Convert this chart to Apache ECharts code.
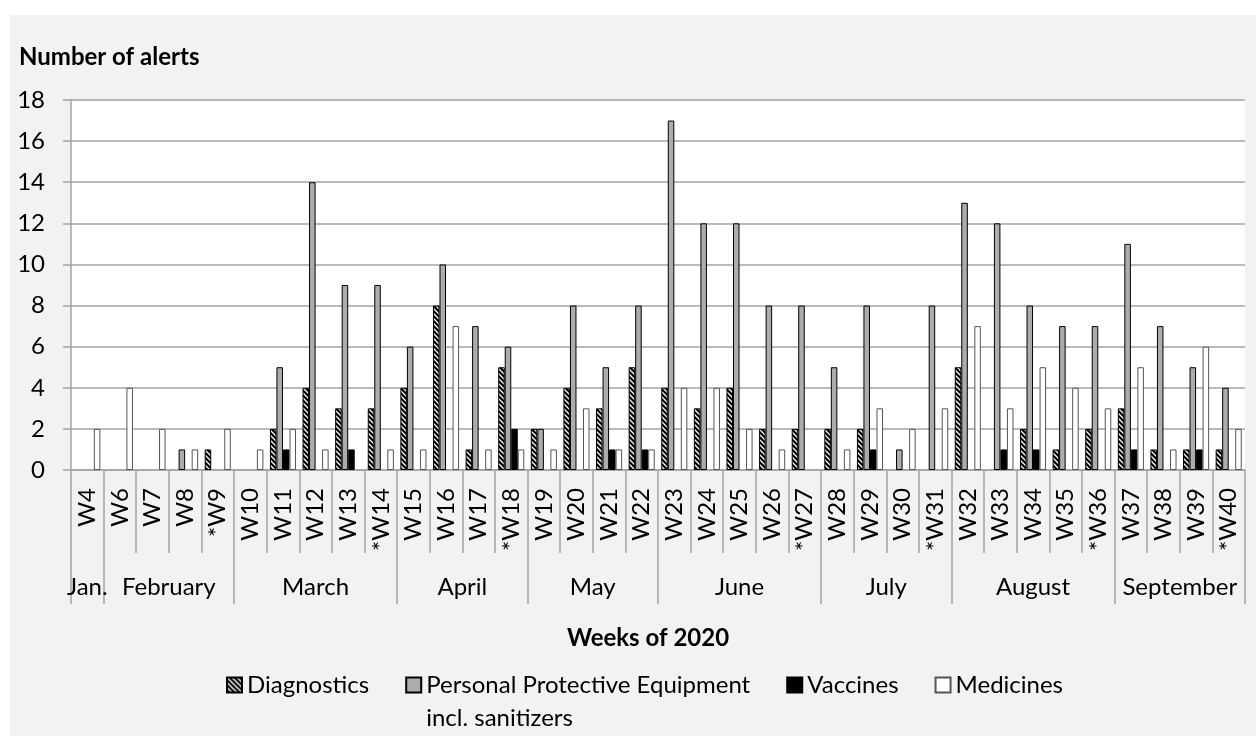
<!DOCTYPE html>
<html>
<head>
<meta charset="utf-8">
<script src="https://cdn.jsdelivr.net/npm/echarts@6/dist/echarts.min.js"></script>
<style>
  html, body { margin: 0; padding: 0; background: #fff; }
  #bg { position: absolute; left: 10px; top: 15px; right: 0; bottom: 0; background: #f2f2f2; }
  #chart { position: absolute; left: 0; top: 0; width: 1256px; height: 736px; }
</style>
</head>
<body>
<div id="bg"></div>
<div id="chart"></div>
<script>
// weeks of 2020 (W5 has no entry), * marks weeks split over two months
const weeks = ['W4', 'W6', 'W7', 'W8', '*W9', 'W10', 'W11', 'W12', 'W13', '*W14',
  'W15', 'W16', 'W17', '*W18', 'W19', 'W20', 'W21', 'W22', 'W23', 'W24',
  'W25', 'W26', '*W27', 'W28', 'W29', 'W30', '*W31', 'W32', 'W33', 'W34',
  'W35', '*W36', 'W37', 'W38', 'W39', '*W40'];
const months = ['Jan.', 'February', 'March', 'April', 'May', 'June', 'July', 'August', 'September'];
const monthWeeks = [1, 4, 5, 4, 4, 5, 4, 5, 4];

const diagnostics = [0, 0, 0, 0, 1, 0, 2, 4, 3, 3, 4, 8, 1, 5, 2, 4, 3, 5, 4, 3, 4, 2, 2, 2, 2, 0, 0, 5, 0, 2, 1, 2, 3, 1, 1, 1];
const ppe = [0, 0, 0, 1, 0, 0, 5, 14, 9, 9, 6, 10, 7, 6, 2, 8, 5, 8, 17, 12, 12, 8, 8, 5, 8, 1, 8, 13, 12, 8, 7, 7, 11, 7, 5, 4];
const vaccines = [0, 0, 0, 0, 0, 0, 1, 0, 1, 0, 0, 0, 0, 2, 0, 0, 1, 1, 0, 0, 0, 0, 0, 0, 1, 0, 0, 0, 1, 1, 0, 0, 1, 0, 1, 0];
const medicines = [2, 4, 2, 1, 2, 1, 2, 1, 0, 1, 1, 7, 1, 1, 1, 3, 1, 1, 4, 4, 2, 1, 0, 1, 3, 2, 3, 7, 3, 5, 4, 3, 5, 1, 6, 2];

// month boundaries and centres on the week scale
const bounds = [0];
monthWeeks.forEach(n => bounds.push(bounds[bounds.length - 1] + n));
const centres = monthWeeks.map((n, i) => bounds[i] + n / 2);

// hatch fill for diagnostics
function hatch() {
  const c = document.createElement('canvas');
  c.width = 5; c.height = 5;
  const ctx = c.getContext('2d');
  ctx.fillStyle = '#000';
  ctx.fillRect(0, 0, 5, 5);
  ctx.strokeStyle = '#fff';
  ctx.lineWidth = 1.3;
  ctx.beginPath();
  ctx.moveTo(-1, -1); ctx.lineTo(6, 6);
  ctx.moveTo(-1, 4); ctx.lineTo(1, 6);
  ctx.moveTo(4, -1); ctx.lineTo(6, 1);
  ctx.stroke();
  return c;
}

const noZero = arr => arr.map(v => (v === 0 ? '-' : v));
const font = 'Lato, "Noto Sans", sans-serif';
const grey = '#a3a3a3';

const chart = echarts.init(document.getElementById('chart'), null, { renderer: 'canvas' });

chart.setOption({
  backgroundColor: 'transparent',
  textStyle: { fontFamily: font, color: '#000' },
  title: [
    {
      text: 'Number of alerts', left: 19, top: 45, padding: 0,
      textStyle: { fontFamily: font, fontSize: 24, fontWeight: 'bold', color: '#000' }
    },
    {
      text: 'Weeks of 2020', left: 648, top: 626, padding: 0, textAlign: 'center',
      textStyle: { fontFamily: font, fontSize: 24, fontWeight: 'bold', color: '#000' }
    }
  ],
  legend: {
    left: 226, top: 640, padding: 0, itemGap: 36,
    itemWidth: 15, itemHeight: 15, icon: 'rect',
    selectedMode: false,
    textStyle: {
      fontFamily: font, fontSize: 24, color: '#000',
      rich: {
        s: { fontSize: 24, lineHeight: 33 },
        a: { fontFamily: font, fontSize: 24, lineHeight: 33, color: '#000' }
      }
    },
    formatter: function (name) {
      if (name.indexOf('\n') >= 0) {
        const p = name.split('\n');
        return '{s| }\n{a|' + p[0] + '}\n{a|' + p[1] + '}';
      }
      return name;
    }
  },
  grid: {
    left: 71, right: 11, top: 100, bottom: 266,
    show: true, backgroundColor: '#fff', borderWidth: 0
  },
  xAxis: [
    {
      type: 'category', data: weeks,
      axisLine: { show: true, lineStyle: { color: grey, width: 1.5 } },
      axisTick: { show: true, interval: 0, length: 83, lineStyle: { color: grey, width: 1.5 } },
      axisLabel: { interval: 0, rotate: 90, margin: 18, fontSize: 24, fontFamily: font, color: '#000' }
    },
    {
      type: 'value', min: 0, max: weeks.length, position: 'bottom', offset: 83,
      axisLine: { show: false },
      splitLine: { show: false },
      axisTick: { show: true, customValues: bounds, length: 51, lineStyle: { color: grey, width: 1.5 } },
      axisLabel: {
        customValues: centres, margin: 22, fontSize: 24, fontFamily: font, color: '#000',
        formatter: v => months[centres.indexOf(v)]
      }
    }
  ],
  yAxis: {
    type: 'value', min: 0, max: 18, interval: 2,
    axisLine: { show: true, lineStyle: { color: grey, width: 1.5 } },
    axisTick: { show: true, length: 8, lineStyle: { color: grey, width: 1.5 } },
    axisLabel: { margin: 26, fontSize: 24, fontFamily: font, color: '#000' },
    splitLine: { lineStyle: { color: grey, width: 1.5 } }
  },
  series: [
    {
      name: 'Diagnostics', type: 'bar', data: noZero(diagnostics),
      barGap: 0, barCategoryGap: '20%',
      itemStyle: { color: { image: hatch(), repeat: 'repeat' }, borderColor: '#000', borderWidth: 1 }
    },
    {
      name: 'Personal Protective Equipment\nincl. sanitizers', type: 'bar', data: noZero(ppe),
      barGap: 0, barCategoryGap: '20%',
      itemStyle: { color: '#acacac', borderColor: '#000', borderWidth: 1 }
    },
    {
      name: 'Vaccines', type: 'bar', data: noZero(vaccines),
      barGap: 0, barCategoryGap: '20%',
      itemStyle: { color: '#000', borderColor: '#000', borderWidth: 1 }
    },
    {
      name: 'Medicines', type: 'bar', data: noZero(medicines),
      barGap: 0, barCategoryGap: '20%',
      itemStyle: { color: '#fff', borderColor: '#555', borderWidth: 1 }
    }
  ]
});
</script>
</body>
</html>
